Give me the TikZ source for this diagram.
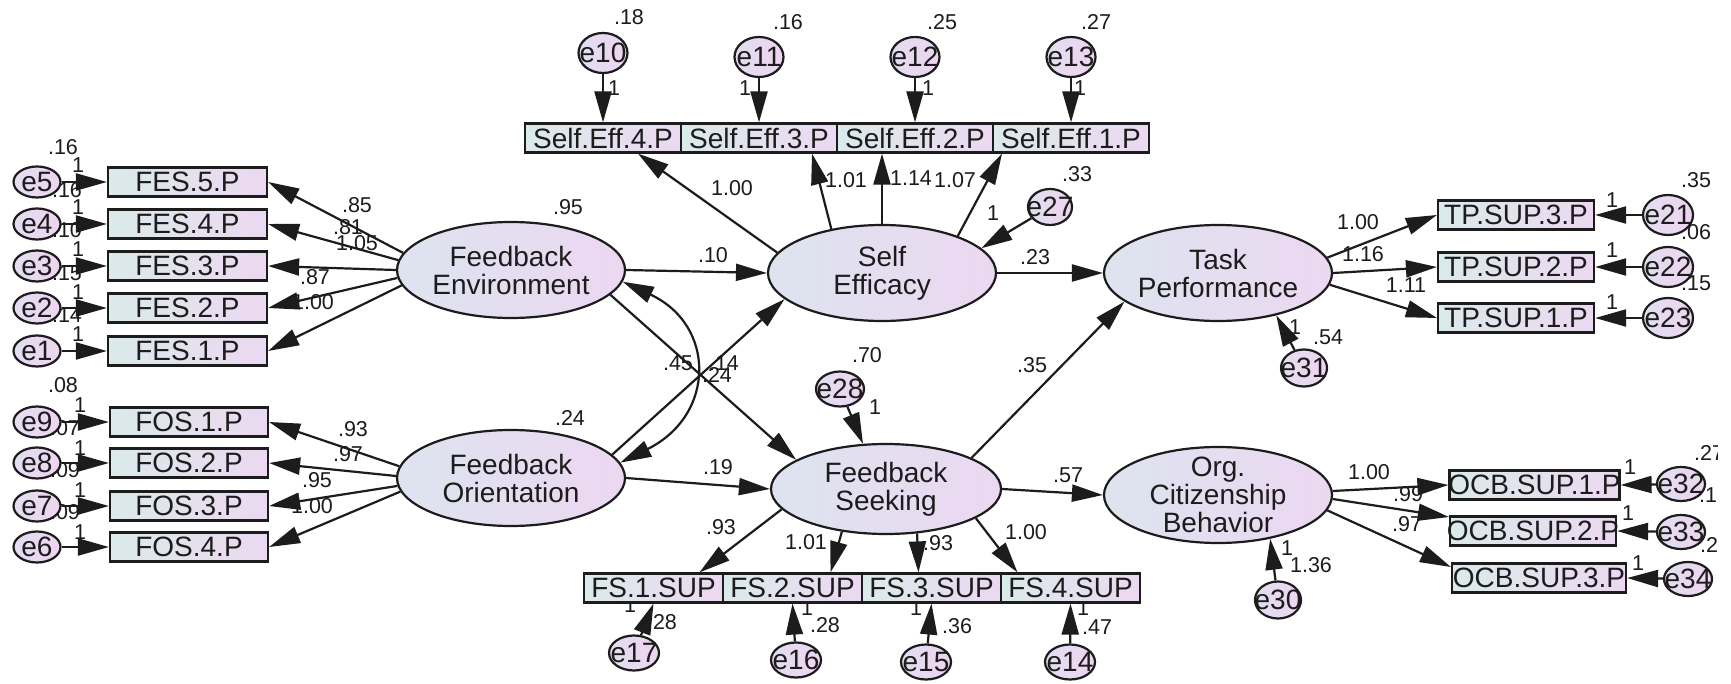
\documentclass[tikz,border=0pt]{standalone}
\usepackage{fontspec}
\setmainfont{Liberation Sans}
\usetikzlibrary{shapes.geometric,arrows.meta}
\pgfdeclarelayer{paper}
\pgfdeclarelayer{numbers}
\pgfsetlayers{paper,numbers,main}

\definecolor{ink}{RGB}{28,28,28}
\definecolor{latL}{RGB}{221,228,239}
\definecolor{latR}{RGB}{236,215,241}
\definecolor{boxL}{RGB}{219,234,234}
\definecolor{boxR}{RGB}{236,216,241}
\definecolor{errL}{RGB}{226,222,240}
\definecolor{errR}{RGB}{238,212,240}

\tikzset{
  bigtext/.style={font=\fontsize{28}{28}\selectfont, text=ink, align=center},
  latent/.style={ellipse, draw=ink, line width=2.2pt, inner sep=0pt,
    minimum width=228pt, minimum height=96pt, left color=latL, right color=latR,
    label={[bigtext]center:#1}},
  obs/.style={rectangle, draw=ink, line width=2.2pt, inner sep=0pt,
    minimum height=29pt, left color=boxL, right color=boxR,
    label={[bigtext]center:#1}},
  err/.style={ellipse, draw=ink, line width=2.2pt, inner sep=0pt,
    minimum width=48pt, minimum height=37pt, left color=errL, right color=errR,
    label={[bigtext]center:#1}},
  coef/.style={font=\fontsize{21.5}{22}\selectfont, text=ink, inner sep=0pt},
  link/.style={draw=ink, line width=2.2pt, -{Triangle[length=31pt,width=17pt]}},
  cov/.style={draw=ink, line width=2.2pt,
    {Triangle[length=31pt,width=17pt]}-{Triangle[length=31pt,width=17pt]}},
}

\begin{document}
\begin{tikzpicture}[x=1pt,y=-1pt]
\useasboundingbox (0,0) rectangle (1731,684);
\begin{pgfonlayer}{paper}
  \fill[white] (0,0) rectangle (1731,684);
\end{pgfonlayer}

% ---------- estimates (set beneath lines and shapes) ----------
\begin{pgfonlayer}{numbers}
\begin{scope}
\clip (0,0) rectangle (1717,684);
\foreach \t/\x/\y [count=\k] in {
  .16/63/147, .16/67/190, .10/67/230, .15/67/273, .14/67/315,
  1/78/165, 1/78/207, 1/78/249, 1/78/292, 1/78/334,
  .85/357/205, .81/348/227, 1.05/357/243, .87/315/277, 1.00/313/302,
  .08/63/385, .07/65/428, .09/65/470, .09/65/512,
  1/80/405, 1/80/448, 1/80/490, 1/80/532,
  .93/353/429, .97/348/454, .95/317/480, 1.00/312/506,
  .95/568/207, .24/570/418,
  .18/629/17, .16/788/22, .25/942/22, .27/1096/22,
  1/614/88, 1/745/88, 1/928/88, 1/1080/88,
  1.00/732/188, 1.01/846/180, 1.14/911/178, 1.07/955/180,
  .33/1077/174, 1/993/213,
  .10/713/255, .23/1035/257,
  .45/678/363, .14/724/363, .24/717/375,
  .19/718/467, .70/867/355, 1/875/407, .35/1032/365, .57/1068/475,
  .93/721/527, 1.01/806/542, .93/938/543, 1.00/1026/532,
  1/630/605, .28/662/622, 1/807/608, .28/825/625,
  1/916/608, .36/957/626, 1/1083/608, .47/1097/627,
  1.00/1358/222, 1.16/1363/254, 1.11/1406/285, 1/1295/327, .54/1328/337,
  .35/1696/180, 1/1612/200, .06/1696/232, 1/1612/250, .15/1696/283, 1/1612/302,
  1.00/1369/472, .99/1408/494, .97/1407/524, 1/1287/548, 1.36/1311/565,
  .27/1709/453, 1/1630/467, .17/1714/495, 1/1628/513, .22/1715/545, 1/1638/563}
  { \node[coef] (est\k) at (\x,\y) {\t}; }
\end{scope}
\end{pgfonlayer}

% ---------- latent variables ----------
\node[latent={Feedback\\Environment}] (FE) at (511,270) {};
\node[latent={Feedback\\Orientation}] (FO) at (511,478) {};
\node[latent={Self\\Efficacy}] (SE) at (882,273) {};
\node[latent={Feedback\\Seeking}, minimum width=230pt, minimum height=90pt] (FS) at (886,489) {};
\node[latent={Task\\Performance}] (TP) at (1218,273) {};
\node[latent={Org.\\Citizenship\\Behavior}] (OCB) at (1218,495) {};

% ---------- feedback environment indicators ----------
\foreach \i/\y in {5/182,4/224,3/266,2/308,1/351}{
  \node[obs=FES.\i.P, minimum width=159pt] (fes\i) at (187.5,\y) {};
  \node[err=e\i, minimum width=47pt, minimum height=31pt] (e\i) at (37,\y) {};
  \draw[link] (e\i) -- (fes\i);
}

% ---------- feedback orientation indicators ----------
\foreach \i/\j/\y in {1/9/422,2/8/463,3/7/506,4/6/547}{
  \node[obs=FOS.\i.P, minimum width=158pt] (fos\i) at (189,\y) {};
  \node[err=e\j, minimum width=47pt, minimum height=31pt] (e\j) at (37,\y) {};
  \draw[link] (e\j) -- (fos\i);
}

% ---------- self efficacy indicators ----------
\foreach \i/\j/\x/\ey in {4/10/603/53,3/11/759/57,2/12/915/57,1/13/1071/57}{
  \node[obs=Self.Eff.\i.P, minimum width=156pt] (se\i) at (\x,138) {};
  \node[err=e\j, minimum width=49pt, minimum height=40pt] (e\j) at (\x,\ey) {};
  \draw[link] (e\j) -- (se\i);
}

% ---------- feedback seeking indicators ----------
\foreach \i/\j/\x/\ex/\ey in {1/17/653.5/634/653,2/16/792.5/796/660,3/15/931.5/926/662,4/14/1070.5/1070/662}{
  \node[obs=FS.\i.SUP, minimum width=139pt] (fs\i) at (\x,588) {};
  \node[err=e\j, minimum width=50pt, minimum height=35pt] (e\j) at (\ex,\ey) {};
  \draw[link] (e\j) -- (fs\i.south);
}

% ---------- task performance indicators ----------
\foreach \i/\j/\y in {3/21/215,2/22/267,1/23/318}{
  \node[obs=TP.SUP.\i.P, minimum width=156pt] (tp\i) at (1516,\y) {};
  \node[err=e\j, minimum width=50pt, minimum height=40pt] (e\j) at (1668,\y) {};
  \draw[link] (e\j) -- (tp\i);
}

% ---------- citizenship behaviour indicators ----------
\node[obs=OCB.SUP.1.P, minimum width=170pt] (ocb1) at (1534.5,485) {};
\node[obs=OCB.SUP.2.P, minimum width=166pt] (ocb2) at (1533,531) {};
\node[obs=OCB.SUP.3.P, minimum width=174pt] (ocb3) at (1539,578) {};
\node[err=e32, minimum height=34pt] (e32) at (1681,484) {};
\node[err=e33, minimum height=34pt] (e33) at (1681,532) {};
\node[err=e34, minimum height=34pt] (e34) at (1688,579) {};
\draw[link] (e32) -- (ocb1.east);
\draw[link] (e33) -- (ocb2.east);
\draw[link] (e34) -- (ocb3.east);

% ---------- disturbances ----------
\node[err=e27, minimum width=44pt, minimum height=36pt] (e27) at (1050,207) {};
\node[err=e28, minimum height=35pt] (e28) at (840,389) {};
\node[err=e31, minimum width=46pt] (e31) at (1304,368) {};
\node[err=e30, minimum width=46pt] (e30) at (1278,600) {};
\draw[link] (e27) -- (SE.14);
\draw[link] (e28) -- (FS.117);
\draw[link] (e31) -- (TP.-36);
\draw[link] (e30) -- (OCB.-40);

% ---------- loadings ----------
\draw[link] (FE.171) -- (fes5.east);
\draw[link] (FE.175) -- (fes4.east);
\draw[link] (FE.180) -- (fes3.east);
\draw[link] (FE.184) -- (fes2.east);
\draw[link] (FE.188) -- (fes1.east);

\draw[link] (FO.174) -- (fos1.east);
\draw[link] (FO.179) -- (fos2.east);
\draw[link] (FO.184) -- (fos3.east);
\draw[link] (FO.187) -- (fos4.east);

\draw[link] (SE.169) -- ([xshift=35pt]se4.south);
\draw[link] (SE.139) -- ([xshift=53pt]se3.south);
\draw[link] (SE.90) -- ([xshift=-33pt]se2.south);
\draw[link] (SE.26) -- ([xshift=-69pt]se1.south);

\draw[link] (FS.191) -- ([xshift=46pt]fs1.north);
\draw[link] (FS.224) -- ([xshift=38pt]fs2.north);
\draw[link] (FS.305) -- ([xshift=-13pt]fs3.north);
\draw[link] (FS.342) -- ([xshift=-53pt]fs4.north);

\draw[link] (TP.8) -- (tp3.west);
\draw[link] (TP.0) -- (tp2.west);
\draw[link] (TP.-6) -- (tp1.west);

\draw[link] (OCB.2) -- (ocb1.west);
\draw[link] (OCB.-2) -- ([yshift=14pt]ocb2.west);
\draw[link] (OCB.-8) -- ([yshift=11pt]ocb3.west);

% ---------- structural paths ----------
\draw[link] (FE.east) -- (SE.west);
\draw[link] (FE.346) -- (FS.162);
\draw[link] (FO.13) -- (SE.195);
\draw[link] (FO.east) -- (FS.west);
\draw[link] (SE.east) -- (TP.west);
\draw[link] (FS.20) -- (TP.197);
\draw[link] (FS.east) -- (OCB.west);
\draw[cov] (FE.354) .. controls (716,325) and (716,415) .. (FO.8);
\end{tikzpicture}
\end{document}
